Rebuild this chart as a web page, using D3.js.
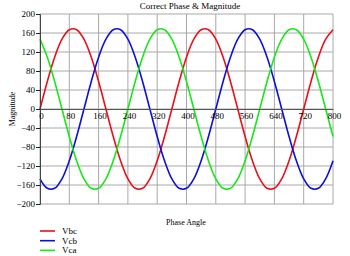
<!DOCTYPE html>
<html>
<head>
<meta charset="utf-8">
<script src="https://cdn.jsdelivr.net/npm/d3@7"></script>
<style>
  body { margin: 0; background: #fff; }
  text { font-family: "Liberation Serif", "Times New Roman", serif; fill: #000; }
</style>
</head>
<body>
<div class="chart"></div>
<script>
// phase angle samples (degrees) every 20 deg
const angles = d3.range(0, 801, 20)
const vbc = [0, 58, 109, 147, 167, 167, 147, 109, 58, 0, -58, -109, -147, -167, -167, -147, -109, -58,
  0, 58, 109, 147, 167, 167, 147, 109, 58, 0, -58, -109, -147, -167, -167, -147, -109, -58,
  0, 58, 109, 147, 167]
const vcb = [-147, -167, -167, -147, -109, -58,
  0, 58, 109, 147, 167, 167, 147, 109, 58, 0, -58, -109, -147, -167, -167, -147, -109, -58,
  0, 58, 109, 147, 167, 167, 147, 109, 58, 0, -58, -109, -147, -167, -167, -147, -109]
const vca = [147, 109, 58, 0, -58, -109, -147, -167, -167, -147, -109, -58,
  0, 58, 109, 147, 167, 167, 147, 109, 58, 0, -58, -109, -147, -167, -167, -147, -109, -58,
  0, 58, 109, 147, 167, 167, 147, 109, 58, 0, -58]
const seriesNames = ['Vbc', 'Vcb', 'Vca']
const xTicks = [0, 80, 160, 240, 320, 400, 480, 560, 640, 720, 800]
const yTicks = [-200, -160, -120, -80, -40, 0, 40, 80, 120, 160, 200]

const colors = ['#e8101a', '#0c10d8', '#18e818']
const seriesData = [vbc, vcb, vca]

// SETUP
const margin = { top: 14, left: 40, right: 17, bottom: 52 }
const fullWidth = 350
const fullHeight = 256
const width = fullWidth - margin.left - margin.right
const height = fullHeight - margin.top - margin.bottom

const root = d3.select('.chart')
  .append('svg')
    .attr('width', fullWidth)
    .attr('height', fullHeight)
const svg = root.append('g')
    .attr('transform', `translate(${margin.left}, ${margin.top})`)

const xScale = d3.scaleLinear().domain([0, 800]).range([0, width])
const yScale = d3.scaleLinear().domain([-200, 200]).range([height, 0])

// GRID
svg.append('g')
  .selectAll('line.v')
  .data(xTicks)
  .enter().append('line')
    .attr('x1', d => xScale(d)).attr('x2', d => xScale(d))
    .attr('y1', 0).attr('y2', height)
    .attr('stroke', '#a8a8a8').attr('stroke-width', 1)
svg.append('g')
  .selectAll('line.h')
  .data(yTicks)
  .enter().append('line')
    .attr('x1', 0).attr('x2', width)
    .attr('y1', d => yScale(d)).attr('y2', d => yScale(d))
    .attr('stroke', '#a8a8a8').attr('stroke-width', 1)

// LINES
const line = d3.line()
  .x((d, i) => xScale(angles[i]))
  .y(d => yScale(d))
  .curve(d3.curveCatmullRom)
seriesData.forEach((s, k) => {
  svg.append('path')
    .datum(s)
    .attr('fill', 'none')
    .attr('stroke', colors[k])
    .attr('stroke-width', 1.6)
    .attr('d', line)
})

// Y AXIS
const yAxis = d3.axisLeft(yScale)
  .tickValues(yTicks)
  .tickSize(4)
  .tickPadding(1)
const yg = svg.append('g').call(yAxis)
yg.select('.domain').attr('stroke', '#444')
yg.selectAll('.tick line').attr('stroke', '#222')
yg.selectAll('text').style('font-size', '9px').style('font-family', '"Liberation Serif", serif')

// X AXIS on zero line
const xAxis = d3.axisBottom(xScale)
  .tickValues(xTicks)
  .tickSize(0)
  .tickPadding(4)
const xg = svg.append('g')
  .attr('transform', `translate(0, ${yScale(0)})`)
  .call(xAxis)
xg.select('.domain').attr('stroke', '#555')
xg.selectAll('text')
  .attr('dx', 1)
  .style('font-size', '9px').style('font-family', '"Liberation Serif", serif')

// TITLES
root.append('text')
  .attr('x', 190).attr('y', 9)
  .attr('text-anchor', 'middle')
  .style('font-size', '9px')
  .text('Correct Phase & Magnitude')
root.append('text')
  .attr('transform', `translate(15, ${margin.top + yScale(0)}) rotate(-90)`)
  .attr('text-anchor', 'middle')
  .style('font-size', '8px')
  .text('Magnitude')
root.append('text')
  .attr('x', 186).attr('y', 225)
  .attr('text-anchor', 'middle')
  .style('font-size', '8px')
  .text('Phase Angle')

// LEGEND
const legend = root.append('g')
  .selectAll('g')
  .data(seriesNames)
  .enter().append('g')
    .attr('transform', (d, i) => `translate(40, ${231 + i * 9.7})`)
legend.append('line')
  .attr('x1', 0).attr('x2', 15)
  .attr('stroke', (d, i) => colors[i])
  .attr('stroke-width', 1.6)
legend.append('text')
  .attr('x', 22).attr('y', 3)
  .style('font-size', '9px')
  .text(d => d)
</script>
</body>
</html>
